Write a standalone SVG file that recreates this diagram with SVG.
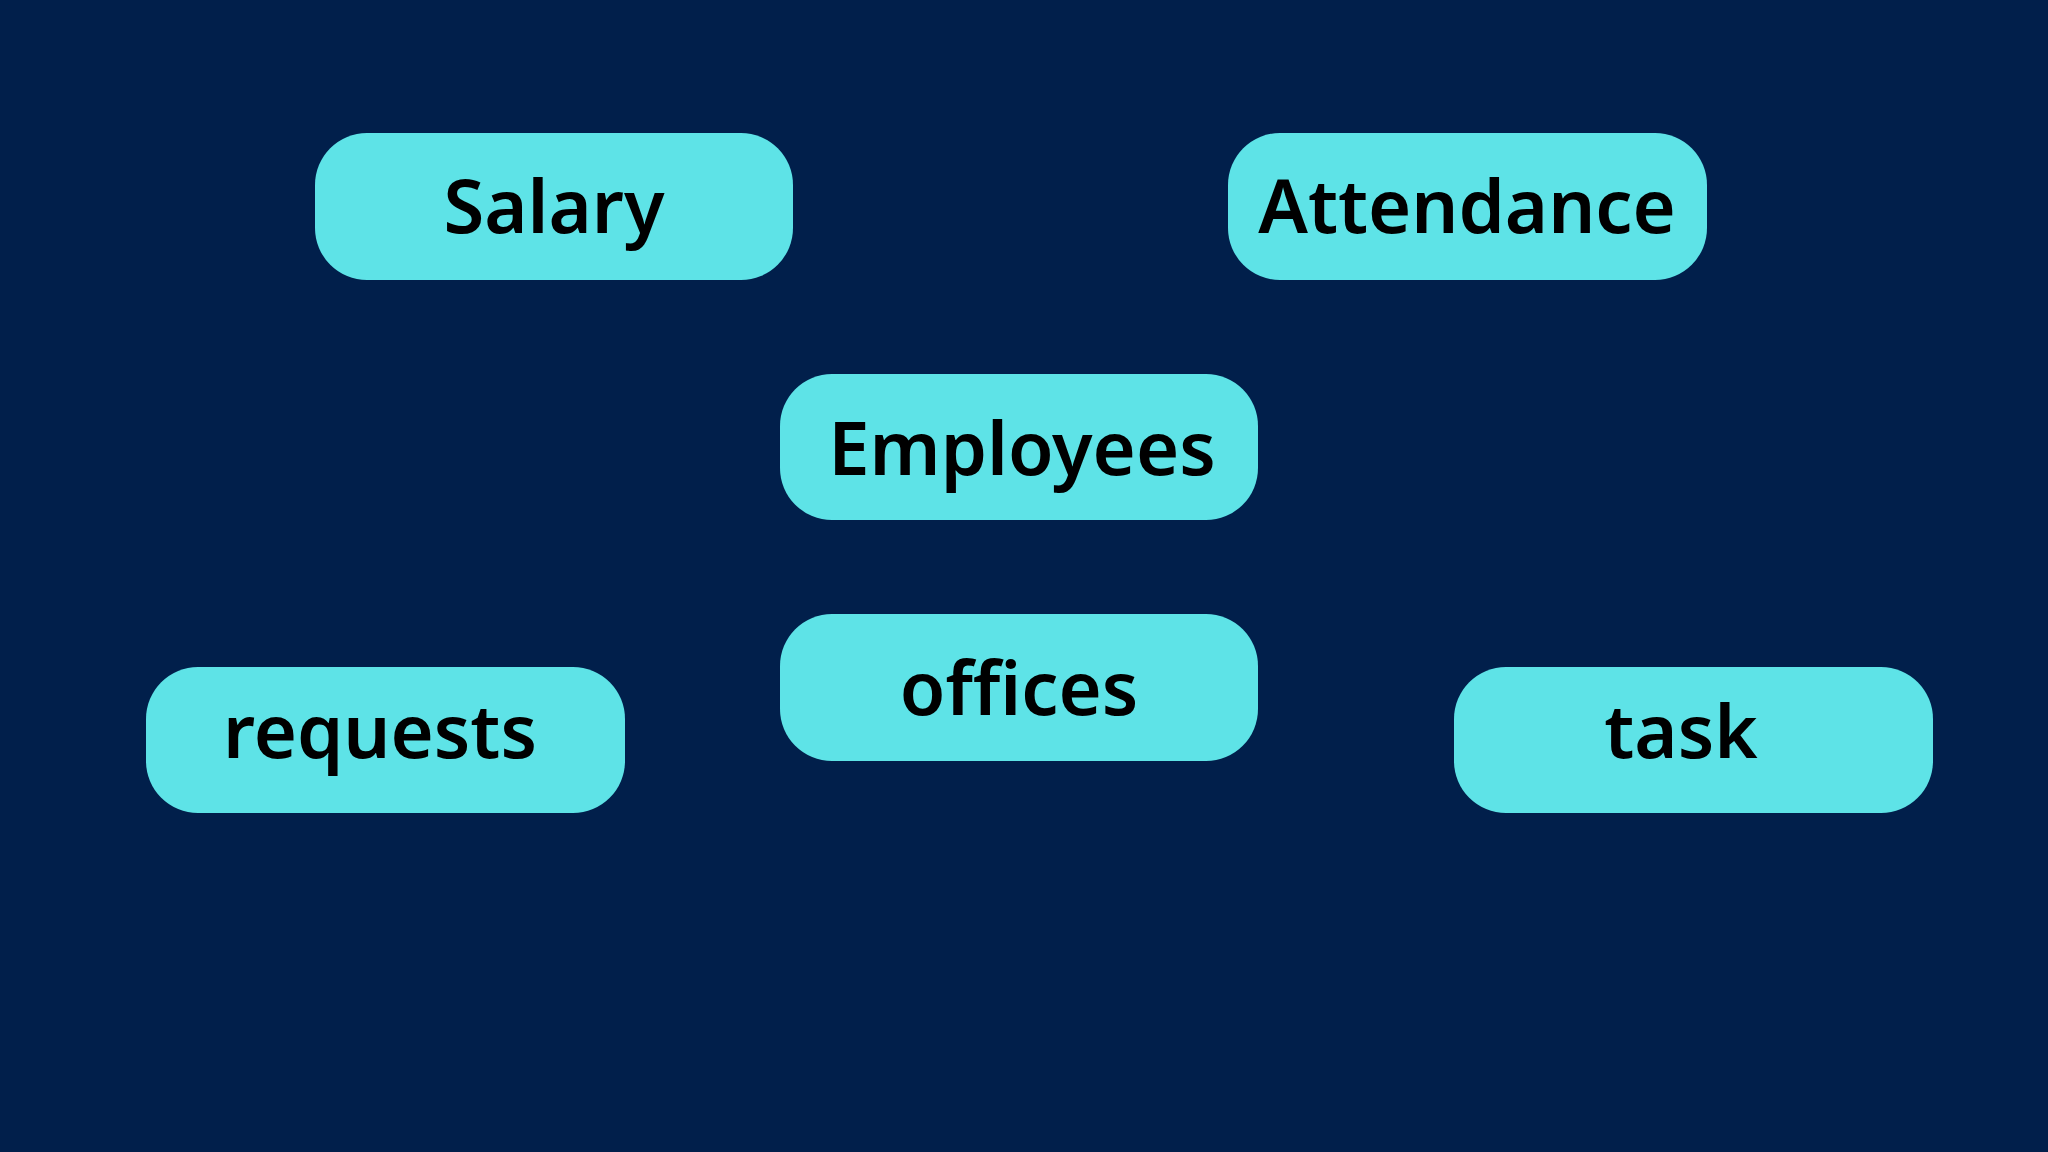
<svg xmlns="http://www.w3.org/2000/svg" width="2048" height="1152" viewBox="0 0 2048 1152">
<style>
.box{fill:#5ee3e7}
.lbl{font-family:"Noto Sans","Open Sans",sans-serif;font-weight:600;font-size:74px;fill:#000;text-anchor:middle}
</style>
<rect width="2048" height="1152" fill="#011f4b"/>
<g id="connectors"></g>
<g id="salary"><rect class="box" x="315" y="133" width="478" height="147" rx="52"/><text class="lbl" x="554" y="233">Salary</text></g>
<g id="attendance"><rect class="box" x="1228" y="133" width="479" height="147" rx="52"/><text class="lbl" x="1467" y="233">Attendance</text></g>
<g id="employees"><rect class="box" x="780" y="374" width="478" height="146" rx="52"/><text class="lbl" x="1022" y="475">Employees</text></g>
<g id="offices"><rect class="box" x="780" y="614" width="478" height="147" rx="52"/><text class="lbl" x="1019" y="715">offices</text></g>
<g id="requests"><rect class="box" x="146" y="667" width="479" height="146" rx="52"/><text class="lbl" x="380" y="758">requests</text></g>
<g id="task"><rect class="box" x="1454" y="667" width="479" height="146" rx="52"/><text class="lbl" x="1681" y="758">task</text></g>
</svg>
